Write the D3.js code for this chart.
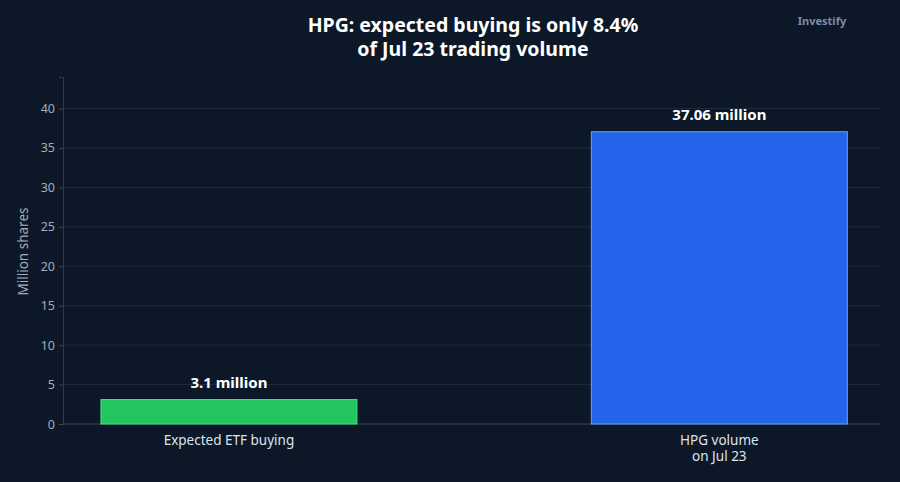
<!DOCTYPE html>
<html lang="en">
<head>
    <meta charset="UTF-8">
    <title>HPG ETF buying</title>
    <script src="https://d3js.org/d3.v7.min.js"></script>
    <style>
        body { margin: 0; background: #0c1828; }
        text { font-family: "Noto Sans", "Open Sans", sans-serif; }
    </style>
</head>
<body>
    <script>
        const categories = ["Expected ETF buying", "HPG volume\non Jul 23"];
        const values = [3.1, 37.06];
        const valueLabels = ["3.1 million", "37.06 million"];
        const barColors = ["#22c55e", "#2563eb"];
        const barStrokes = ["#4ade80", "#60a5fa"];
        const yTicks = [0, 5, 10, 15, 20, 25, 30, 35, 40];

        const w = 900;
        const h = 482;
        const margin = {top: 77, right: 19, bottom: 58, left: 63};

        const svg = d3.select("body")
            .append("svg")
            .attr("width", w)
            .attr("height", h);

        svg.append("rect")
            .attr("width", w)
            .attr("height", h)
            .attr("fill", "#0c1828");

        const xScale = d3.scaleBand()
            .domain(categories)
            .range([margin.left, w - margin.right])
            .paddingInner(0.478)
            .paddingOuter(0.073)
            .align(0.53);

        const yScale = d3.scaleLinear()
            .domain([0, 44])
            .range([h - margin.bottom, margin.top]);

        // gridlines
        svg.append("g")
            .selectAll("line")
            .data(yTicks.slice(1))
            .join("line")
            .attr("x1", margin.left)
            .attr("x2", w - margin.right)
            .attr("y1", d => yScale(d))
            .attr("y2", d => yScale(d))
            .attr("stroke", "#1f2c40")
            .attr("stroke-width", 1);

        const yAxis = d3.axisLeft(yScale).tickValues(yTicks).tickSize(4).tickPadding(4);
        const gy = svg.append("g")
            .attr("transform", "translate(" + margin.left + ",0)")
            .call(yAxis);
        gy.select(".domain").attr("stroke", "#2e3a4e");
        gy.selectAll(".tick line").attr("stroke", "#3a4659");
        gy.selectAll(".tick text")
            .attr("fill", "#a3adbb")
            .style("font-size", "12.5px");

        svg.append("line")
            .attr("x1", margin.left)
            .attr("x2", w - margin.right)
            .attr("y1", yScale(0))
            .attr("y2", yScale(0))
            .attr("stroke", "#3a4659");

        svg.append("text")
            .attr("transform", "translate(28," + ((margin.top + h - margin.bottom) / 2 + 1) + ") rotate(-90)")
            .attr("text-anchor", "middle")
            .attr("fill", "#a3adbb")
            .style("font-size", "13.5px")
            .text("Million shares");

        // bars
        svg.selectAll(".bar")
            .data(values)
            .join("rect")
            .attr("class", "bar")
            .attr("x", (d, i) => xScale(categories[i]))
            .attr("y", d => yScale(d))
            .attr("width", xScale.bandwidth())
            .attr("height", d => yScale(0) - yScale(d))
            .attr("fill", (d, i) => barColors[i])
            .attr("stroke", (d, i) => barStrokes[i])
            .attr("stroke-width", 1);

        svg.selectAll(".val")
            .data(values)
            .join("text")
            .attr("class", "val")
            .attr("x", (d, i) => xScale(categories[i]) + xScale.bandwidth() / 2)
            .attr("y", d => yScale(d) - 12)
            .attr("text-anchor", "middle")
            .attr("fill", "#ffffff")
            .style("font-size", "15px")
            .style("font-weight", "bold")
            .text((d, i) => valueLabels[i]);

        // category labels
        const cat = svg.selectAll(".cat")
            .data(categories)
            .join("text")
            .attr("class", "cat")
            .attr("x", d => xScale(d) + xScale.bandwidth() / 2)
            .attr("y", yScale(0) + 21)
            .attr("text-anchor", "middle")
            .attr("fill", "#dde3ec")
            .style("font-size", "13.5px");
        cat.selectAll("tspan")
            .data(d => d.split("\n").map(s => ({s: s, x: xScale(d) + xScale.bandwidth() / 2})))
            .join("tspan")
            .attr("x", d => d.x)
            .attr("dy", (d, i) => i === 0 ? 0 : 16)
            .text(d => d.s);

        // title
        const title = svg.append("text")
            .attr("x", 473)
            .attr("y", 32)
            .attr("text-anchor", "middle")
            .attr("fill", "#ffffff")
            .style("font-size", "19.5px")
            .style("font-weight", "bold");
        title.append("tspan").attr("x", 473).text("HPG: expected buying is only 8.4%");
        title.append("tspan").attr("x", 473).attr("dy", 23.5).text("of Jul 23 trading volume");

        svg.append("text")
            .attr("x", 822)
            .attr("y", 25)
            .attr("text-anchor", "middle")
            .attr("fill", "#7d8da3")
            .style("font-size", "11px")
            .style("font-weight", "bold")
            .text("Investify");
    </script>
</body>
</html>
